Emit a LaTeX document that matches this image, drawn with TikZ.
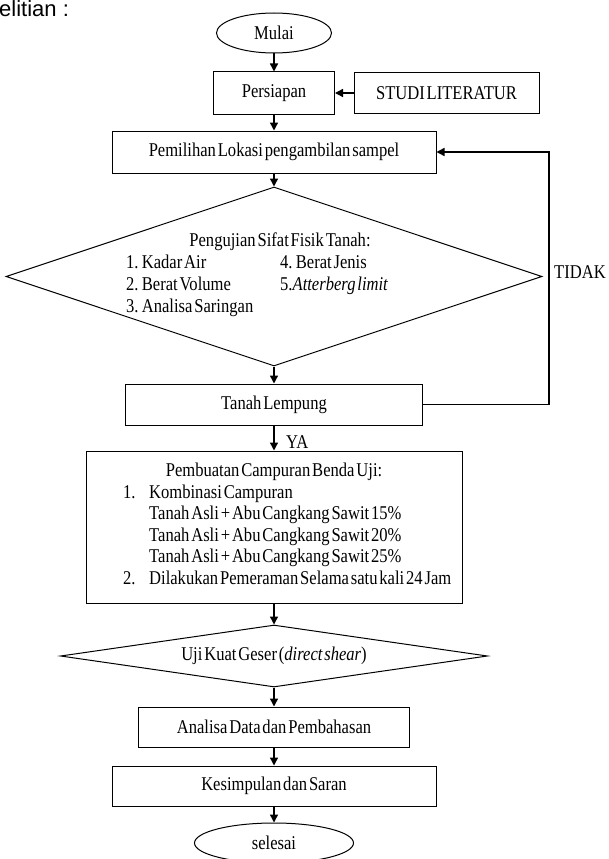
\documentclass[tikz,border=0pt]{standalone}
\usepackage{fontspec}
\setmainfont{Liberation Serif}[FakeStretch=0.85,WordSpace=0.45]
\newfontfamily\topfont{Liberation Sans}
\usetikzlibrary{shapes.geometric,arrows.meta}
\begin{document}
\begin{tikzpicture}[x=1pt,y=-1pt,
  font=\fontsize{19.5}{21.5}\selectfont,
  proc/.style={draw, line width=1pt, rectangle, inner sep=0pt},
  term/.style={draw, line width=1pt, ellipse, inner sep=0pt},
  dec/.style={draw, line width=1pt, diamond, inner sep=0pt},
  arr/.style={line width=1.4pt, -{Triangle[length=8pt,width=8pt]}},
  lbl/.style={inner sep=0pt}]
\useasboundingbox (0,0) rectangle (609,859);
% heading fragment
\node[lbl, anchor=base west, font=\topfont\fontsize{22}{24}\selectfont] (top) at (-1,17) {elitian :};
% nodes
\node[term, minimum width=115, minimum height=40] (mulai) at (274,33) {Mulai};
\node[proc, minimum width=121, minimum height=42] (persiapan) at (274,93) {Persiapan};
\node[proc, minimum width=185, minimum height=41] (studi) at (446.5,93) {STUDI LITERATUR};
\node[proc, minimum width=324, minimum height=42] (pemilihan) at (274,152) {Pemilihan Lokasi pengambilan sampel};
\node[dec, minimum width=536, minimum height=179] (uji1) at (274,276.5) {};
\node[lbl, anchor=base] (u1a) at (280,246.5) {Pengujian Sifat Fisik Tanah:};
\node[lbl, anchor=base west] (u1b) at (126,268.5) {1. Kadar Air};
\node[lbl, anchor=base west] (u1c) at (280,268.5) {4. Berat Jenis};
\node[lbl, anchor=base west] (u1d) at (126,290.5) {2. Berat Volume};
\node[lbl, anchor=base west] (u1e) at (280,290.5) {5.\textit{Atterberg limit}};
\node[lbl, anchor=base west] (u1f) at (126,312.5) {3. Analisa Saringan};
\node[proc, minimum width=297, minimum height=41] (lempung) at (274,404.5) {Tanah Lempung};
\coordinate (fbx) at (549,0);
\node[lbl, anchor=west] (tidak) at (554,272) {TIDAK};
\node[lbl, anchor=west] (ya) at (286,442) {YA};
\node[proc, minimum width=376, minimum height=152] (campur) at (274,527) {};
\node[lbl, anchor=base] (c0) at (274,476.5) {Pembuatan Campuran Benda Uji:};
\node[lbl, anchor=base west] (c1n) at (123,498) {1.};
\node[lbl, anchor=base west] (c1) at (149,498) {Kombinasi Campuran};
\node[lbl, anchor=base west] (c2) at (149,519.5) {Tanah Asli + Abu Cangkang Sawit 15\%};
\node[lbl, anchor=base west] (c3) at (149,541) {Tanah Asli + Abu Cangkang Sawit 20\%};
\node[lbl, anchor=base west] (c4) at (149,562.5) {Tanah Asli + Abu Cangkang Sawit 25\%};
\node[lbl, anchor=base west] (c5n) at (123,584) {2.};
\node[lbl, anchor=base west] (c5) at (149,584) {Dilakukan Pemeraman Selama satu kali 24 Jam};
\node[dec, aspect=6.9, minimum width=427, minimum height=62] (uji2) at (274,656) {Uji Kuat Geser (\textit{direct shear})};
\node[proc, minimum width=271, minimum height=40] (analisa) at (274,727) {Analisa Data dan Pembahasan};
\node[proc, minimum width=324, minimum height=40] (kesimpulan) at (274,786) {Kesimpulan dan Saran};
\node[term, minimum width=159, minimum height=40] (selesai) at (274,843) {selesai};
% connectors
\draw[arr] (mulai) -- (persiapan);
\draw[arr] (studi) -- (persiapan);
\draw[arr] (persiapan) -- (pemilihan);
\draw[arr] (pemilihan) -- (uji1);
\draw[arr] (uji1) -- (lempung);
\draw[arr] (lempung.east) -- (lempung.east -| fbx) |- (pemilihan.east);
\draw[arr] (lempung) -- (campur);
\draw[arr] (campur) -- (uji2);
\draw[arr] (uji2) -- (analisa);
\draw[arr] (analisa) -- (kesimpulan);
\draw[arr] (kesimpulan) -- (selesai);
\end{tikzpicture}
\end{document}
